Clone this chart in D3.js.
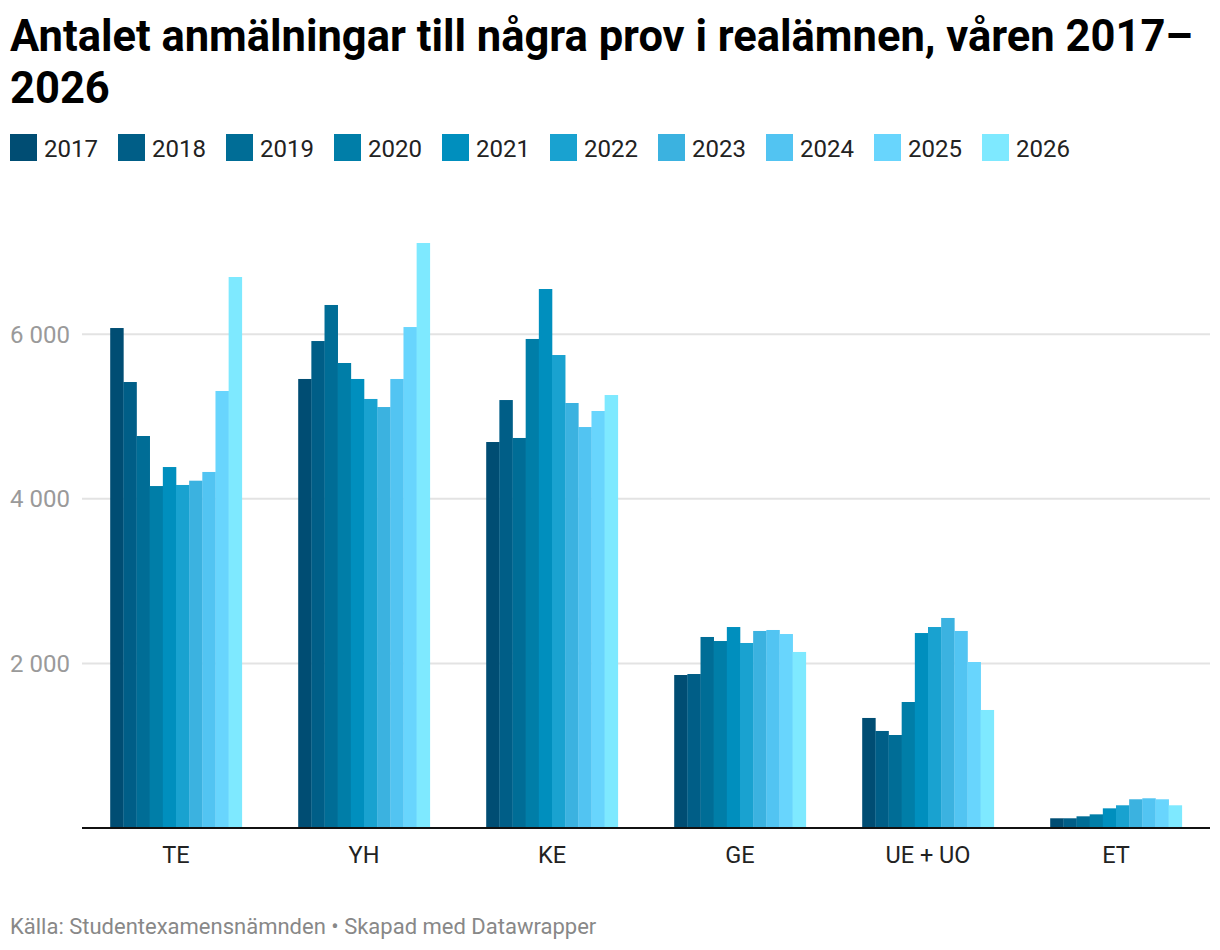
<!DOCTYPE html>
<html>
<head>
<meta charset="utf-8">
<script src="https://cdn.jsdelivr.net/npm/d3@7"></script>
<style>
  body { margin: 0; background: #fff; }
  svg { display: block; font-family: Roboto, "Noto Sans", sans-serif; }
</style>
</head>
<body>
<svg id="chart" width="1220" height="950"></svg>
<script>
const subjects = ["TE", "YH", "KE", "GE", "UE + UO", "ET"];
const years = ["2017","2018","2019","2020","2021","2022","2023","2024","2025","2026"];
const colors = ["#004d73","#005e87","#006d96","#007ea8","#008fbe","#19a2d0","#3bb2e0","#52c4f2","#68d5fd","#7ee9ff"];
// values per year, in subject order TE, YH, KE, GE, UE + UO, ET
const v2017 = [6075, 5456, 4690, 1859, 1337, 118];
const v2018 = [5419, 5917, 5200, 1871, 1179, 118];
const v2019 = [4763, 6355, 4739, 2321, 1130, 142];
const v2020 = [4155, 5650, 5942, 2272, 1531, 166];
const v2021 = [4386, 5456, 6549, 2442, 2369, 239];
const v2022 = [4168, 5213, 5747, 2248, 2442, 276];
const v2023 = [4220, 5115, 5164, 2394, 2552, 349];
const v2024 = [4326, 5456, 4872, 2406, 2394, 361];
const v2025 = [5310, 6087, 5067, 2357, 2017, 349];
const v2026 = [6695, 7108, 5261, 2139, 1434, 276];
const seriesValues = [v2017, v2018, v2019, v2020, v2021, v2022, v2023, v2024, v2025, v2026];
const yTicks = [2000, 4000, 6000];
const titleLines = ["Antalet anmälningar till några prov i realämnen, våren 2017–", "2026"];
const footer = "Källa: Studentexamensnämnden • Skapad med Datawrapper";

const svg = d3.select("#chart");

// Title
svg.append("g").selectAll("text").data(titleLines).join("text")
  .attr("x", 10).attr("y", (d, i) => 51 + i * 52)
  .attr("font-size", 43.5).attr("font-weight", 700).attr("fill", "#000")
  .text(d => d);

// Legend
const legend = svg.append("g").attr("transform", "translate(10,134)");
const li = legend.selectAll("g").data(years).join("g")
  .attr("transform", (d, i) => `translate(${i * 108},0)`);
li.append("rect").attr("width", 27).attr("height", 27).attr("fill", (d, i) => colors[i]);
li.append("text").attr("x", 34).attr("y", 23).attr("font-size", 24).attr("fill", "#222").text(d => d);

// Scales
const x0 = d3.scaleBand().domain(subjects).range([82, 1210]).paddingInner(0.3).paddingOuter(0.15);
const x1 = d3.scaleBand().domain(years).range([0, x0.bandwidth()]).padding(0);
const y = d3.scaleLinear().domain([0, 8000]).range([828, 828 - 8000 * 0.0823]);
const color = d3.scaleOrdinal().domain(years).range(colors);

// Gridlines and y labels
const grid = svg.append("g");
grid.selectAll("line").data(yTicks).join("line")
  .attr("x1", 82).attr("x2", 1210)
  .attr("y1", d => y(d)).attr("y2", d => y(d))
  .attr("stroke", "#e3e3e3").attr("stroke-width", 2);
grid.selectAll("text").data(yTicks).join("text")
  .attr("x", 70).attr("y", d => y(d)).attr("dy", "0.35em")
  .attr("text-anchor", "end").attr("font-size", 24).attr("fill", "#9a9a9a")
  .text(d => d3.format(",")(d).replace(/,/g, " "));

// Bars
const groups = svg.append("g").selectAll("g").data(subjects).join("g")
  .attr("transform", d => `translate(${x0(d)},0)`);
groups.selectAll("rect")
  .data((s, si) => years.map((yr, yi) => ({ year: yr, value: seriesValues[yi][si] })))
  .join("rect")
  .attr("x", d => x1(d.year))
  .attr("width", x1.bandwidth() + 0.3)
  .attr("y", d => y(d.value))
  .attr("height", d => y(0) - y(d.value))
  .attr("fill", d => color(d.year));

// X axis
const xAxis = svg.append("g").attr("transform", `translate(0,${y(0)})`)
  .call(d3.axisBottom(x0).tickSize(0).tickPadding(18));
xAxis.select(".domain").attr("stroke", "#111").attr("stroke-width", 2)
  .attr("d", "M82,0H1210");
xAxis.selectAll("text").attr("font-size", 23.5).attr("fill", "#222")
  .attr("font-family", "Roboto, 'Noto Sans', sans-serif");

// Footer
svg.append("text").attr("x", 10).attr("y", 934)
  .attr("font-size", 22).attr("fill", "#888").text(footer);
</script>
</body>
</html>
